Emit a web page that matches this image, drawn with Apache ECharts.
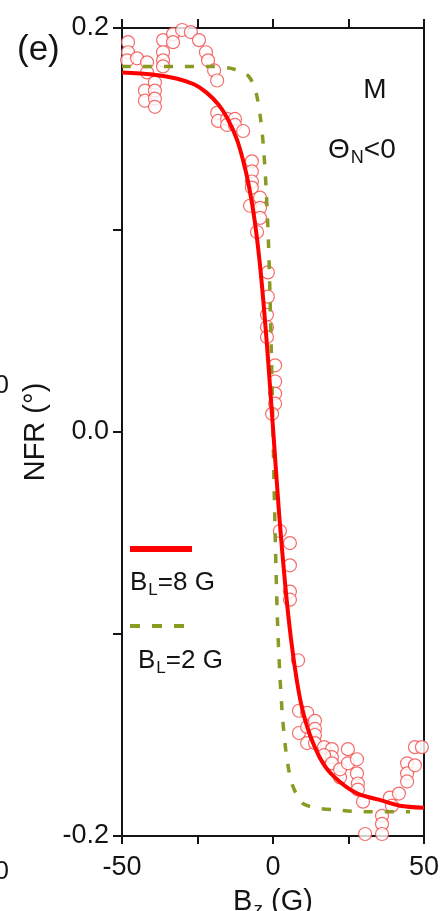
<!DOCTYPE html>
<html>
<head>
<meta charset="utf-8">
<script src="https://cdn.jsdelivr.net/npm/echarts@6/dist/echarts.min.js"></script>
<style>
  html, body { margin: 0; padding: 0; background: #fff; }
  #chart { width: 444px; height: 911px; }
</style>
</head>
<body>
<div id="chart"></div>
<script>
// Measured rotation NFR (deg) vs longitudinal field Bz (G)
const measBz = [
  -48.0, -48.0, -48.3, -45.0, -41.7, -41.7, -42.4, -42.4, -39.1, -39.1,
  -39.1, -39.1, -36.4, -36.4, -36.4, -36.4, -33.1, -33.1, -30.1, -27.2,
  -24.5, -22.2, -21.5, -19.5, -18.5, -18.5, -18.2, -15.2, -15.2, -12.6,
  -12.6, -9.9, -7.0, -7.0, -7.0, -7.0, -7.6, -4.3, -4.3, -4.3,
  -5.3, -1.7, -1.7, -2.0, -2.0, -2.0, 0.7, 0.7, 0.7, 0.7,
  -0.3, 2.3, 5.6, 5.6, 5.6, 5.6, 8.3, 8.6, 11.3, 8.6,
  11.3, 13.9, 13.9, 13.9, 11.3, 13.9, 16.9, 19.5, 19.5, 16.9,
  19.5, 22.2, 22.2, 24.8, 24.8, 27.8, 27.8, 28.1, 28.1, 29.8,
  30.5, 36.1, 36.1, 36.1, 38.7, 41.7, 39.4, 44.4, 44.4, 44.4,
  47.0, 47.0, 49.3
];
const measNfr = [
  0.193, 0.188, 0.184, 0.185, 0.183, 0.178, 0.169, 0.164, 0.173, 0.169,
  0.165, 0.161, 0.194, 0.188, 0.184, 0.181, 0.197, 0.193, 0.199, 0.198,
  0.194, 0.188, 0.184, 0.179, 0.174, 0.158, 0.154, 0.155, 0.152, 0.155,
  0.152, 0.149, 0.134, 0.129, 0.124, 0.121, 0.112, 0.116, 0.111, 0.106,
  0.099, 0.079, 0.067, 0.058, 0.052, 0.047, 0.033, 0.025, 0.019, 0.014,
  0.009, -0.049, -0.055, -0.066, -0.079, -0.083, -0.113, -0.138, -0.139, -0.149,
  -0.146, -0.143, -0.147, -0.150, -0.154, -0.154, -0.156, -0.157, -0.161, -0.160,
  -0.164, -0.171, -0.167, -0.157, -0.164, -0.162, -0.169, -0.174, -0.177, -0.183,
  -0.199, -0.190, -0.194, -0.199, -0.181, -0.179, -0.185, -0.164, -0.169, -0.173,
  -0.156, -0.165, -0.156
];

// Model curve, BL = 8 G
const fit8Bz  = [-50, -40, -32, -26, -22, -18, -15, -12, -10, -8, -6, -4, -2, 0,
                 2, 4, 6, 8, 10, 13, 17, 22, 28, 35, 42, 50];
const fit8Nfr = [0.178, 0.177, 0.175, 0.172, 0.168, 0.162, 0.155, 0.145, 0.135, 0.122, 0.104,
                 0.078, 0.043, 0.002, -0.040, -0.075, -0.103, -0.124, -0.139, -0.153, -0.165,
                 -0.173, -0.179, -0.182, -0.185, -0.186];

// Model curve, BL = 2 G
const fit2Bz  = [-50, -30, -20, -14, -10, -8, -6.5, -5.3, -4.2, -3.2, -2.3, -1.5, -0.8, 0,
                 0.8, 1.5, 2.3, 3.2, 4.2, 5.3, 6.5, 8, 10, 14, 20, 30, 45.4];
const fit2Nfr = [0.181, 0.181, 0.181, 0.180, 0.178, 0.176, 0.172, 0.166, 0.156, 0.142, 0.121,
                 0.094, 0.056, 0.0, -0.056, -0.094, -0.121, -0.142, -0.157, -0.168, -0.175,
                 -0.180, -0.184, -0.186, -0.187, -0.188, -0.188];

// Tick values that carry a label
const xLabeled = [-50, 0, 50];
const yLabeled = [-0.2, 0.0, 0.2];

const zip = (a, b) => a.map((v, i) => [v, b[i]]);

const FONT = "'Liberation Sans', Arial, sans-serif";
const INK = '#141414';
const RED = '#ff0000';
const OLIVE = '#8a9a22';
const SUB = { fontSize: 19, fontFamily: FONT, color: INK, padding: [16, 0, 0, 1] };

const axisLine = { show: true, onZero: false, lineStyle: { color: INK, width: 2 } };

const chart = echarts.init(document.getElementById('chart'), null, { renderer: 'canvas' });

chart.setOption({
  animation: false,
  backgroundColor: '#fff',
  grid: { left: 122, right: 20, top: 28, bottom: 75, containLabel: false, outerBoundsMode: 'none' },
  xAxis: [
    {
      type: 'value', min: -50, max: 50, interval: 25, position: 'bottom',
      axisLine,
      axisTick: { show: true, inside: false, length: 8, lineStyle: { color: INK, width: 2 } },
      axisLabel: {
        margin: 18, fontSize: 27, fontFamily: FONT, color: INK,
        formatter: v => xLabeled.some(t => Math.abs(t - v) < 1e-9) ? String(v) : ''
      },
      splitLine: { show: false },
      name: 'B{sub|z} (G)', nameLocation: 'middle', nameGap: 48,
      nameTextStyle: { fontSize: 29, fontFamily: FONT, color: INK, rich: { sub: SUB } }
    },
    {
      type: 'value', min: -50, max: 50, interval: 25, position: 'top',
      axisLine,
      axisTick: { show: true, inside: false, length: 9, lineStyle: { color: INK, width: 2 } },
      axisLabel: { show: false },
      splitLine: { show: false }
    }
  ],
  yAxis: [
    {
      type: 'value', min: -0.2, max: 0.2, interval: 0.1, position: 'left',
      axisLine,
      axisTick: { show: true, inside: false, length: 9, lineStyle: { color: INK, width: 2 } },
      axisLabel: {
        margin: 13, fontSize: 27, fontFamily: FONT, color: INK,
        formatter: v => yLabeled.some(t => Math.abs(t - v) < 1e-9) ? v.toFixed(1) : ''
      },
      splitLine: { show: false },
      name: 'NFR (°)', nameLocation: 'middle', nameGap: 72, nameRotate: 90,
      nameTextStyle: { fontSize: 29, fontFamily: FONT, color: INK }
    },
    {
      type: 'value', min: -0.2, max: 0.2, interval: 0.1, position: 'right',
      axisLine,
      axisTick: { show: false },
      axisLabel: { show: false },
      splitLine: { show: false }
    }
  ],
  series: [
    {
      name: 'data', type: 'scatter', z: 2,
      data: zip(measBz, measNfr),
      symbol: 'circle', symbolSize: 13,
      itemStyle: { color: '#ffffff', borderColor: '#f04848', borderWidth: 1.2 }
    },
    {
      name: 'BL=2 G', type: 'line', z: 3,
      data: zip(fit2Bz, fit2Nfr),
      showSymbol: false, smooth: 0.3,
      lineStyle: { color: OLIVE, width: 3.5, type: [9, 12] }
    },
    {
      name: 'BL=8 G', type: 'line', z: 4,
      data: zip(fit8Bz, fit8Nfr),
      showSymbol: false, smooth: 0.3,
      lineStyle: { color: RED, width: 4 }
    }
  ],
  graphic: [
    { type: 'text', x: 17, y: 50, style: { text: '(e)', font: `35px ${FONT}`, fill: INK, textAlign: 'left', textVerticalAlign: 'middle', align: 'left', verticalAlign: 'middle' } },
    { type: 'text', x: 9, y: 386, style: { text: '0', font: `26px ${FONT}`, fill: INK, textAlign: 'right', textVerticalAlign: 'middle', align: 'right', verticalAlign: 'middle' } },
    { type: 'text', x: 9, y: 872, style: { text: '0', font: `26px ${FONT}`, fill: INK, textAlign: 'right', textVerticalAlign: 'middle', align: 'right', verticalAlign: 'middle' } },
    { type: 'text', x: 375, y: 90, style: { text: 'M', font: `28px ${FONT}`, fill: INK, textAlign: 'center', textVerticalAlign: 'middle', align: 'center', verticalAlign: 'middle' } },
    { type: 'text', x: 328, y: 150, style: { text: 'Θ{sub|N}<0', font: `28px ${FONT}`, fill: INK, textAlign: 'left', textVerticalAlign: 'middle', align: 'left', verticalAlign: 'middle', rich: { sub: { font: `18px ${FONT}`, fill: INK, padding: [16, 0, 0, 1] } } } },
    { type: 'line', shape: { x1: 130, y1: 549, x2: 192, y2: 549 }, style: { stroke: RED, lineWidth: 6 } },
    { type: 'text', x: 130, y: 583, style: { text: 'B{sub|L}=8 G', font: `26px ${FONT}`, fill: INK, textAlign: 'left', textVerticalAlign: 'middle', align: 'left', verticalAlign: 'middle', rich: { sub: { font: `17px ${FONT}`, fill: INK, padding: [15, 0, 0, 1] } } } },
    { type: 'line', shape: { x1: 130, y1: 626, x2: 188, y2: 626 }, style: { stroke: OLIVE, lineWidth: 4, lineDash: [10, 12] } },
    { type: 'text', x: 138, y: 661, style: { text: 'B{sub|L}=2 G', font: `26px ${FONT}`, fill: INK, textAlign: 'left', textVerticalAlign: 'middle', align: 'left', verticalAlign: 'middle', rich: { sub: { font: `17px ${FONT}`, fill: INK, padding: [15, 0, 0, 1] } } } }
  ]
});
</script>
</body>
</html>
